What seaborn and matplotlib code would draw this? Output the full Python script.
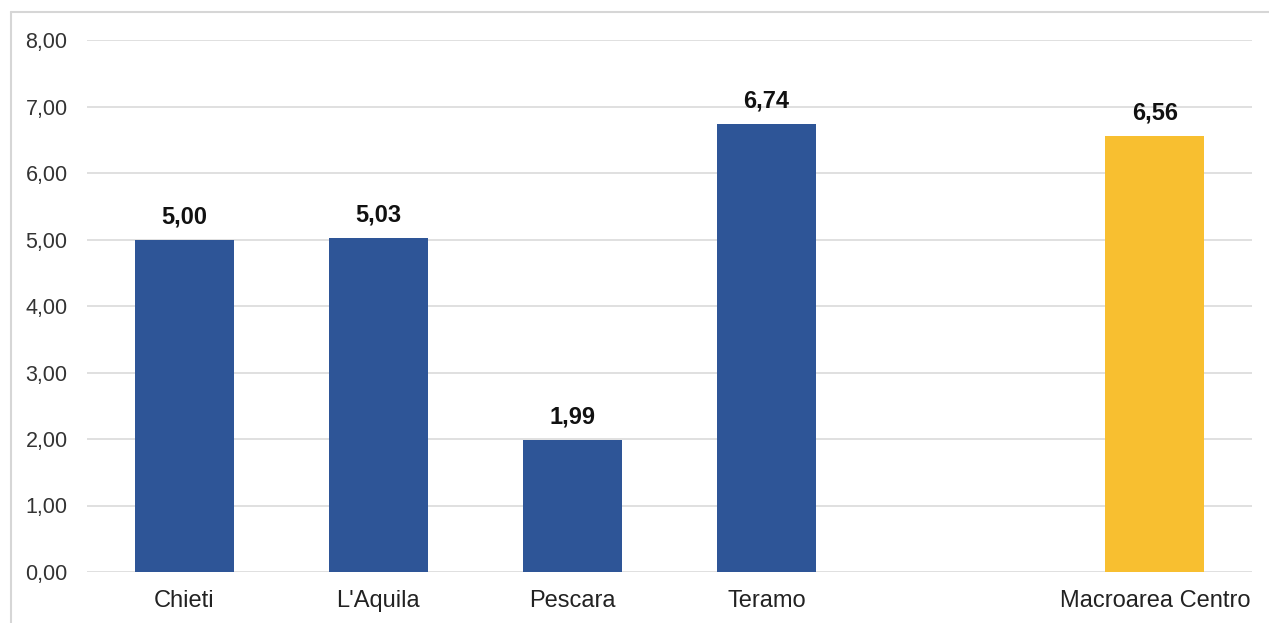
import matplotlib
matplotlib.use("Agg")
import matplotlib.pyplot as plt
from matplotlib.lines import Line2D
import seaborn as sns
import pandas as pd

categories = ["Chieti", "L'Aquila", "Pescara", "Teramo", "Macroarea Centro"]
values = [5.00, 5.03, 1.99, 6.74, 6.56]
order = ["Chieti", "L'Aquila", "Pescara", "Teramo", " ", "Macroarea Centro"]
colors = {"Chieti": "#2E5597", "L'Aquila": "#2E5597", "Pescara": "#2E5597",
          "Teramo": "#2E5597", " ": "#2E5597", "Macroarea Centro": "#F8BF30"}
yticks = [0, 1, 2, 3, 4, 5, 6, 7, 8]

sns.set_theme(style="white")
plt.rcParams['font.family'] = ['Liberation Sans', 'DejaVu Sans']

df = pd.DataFrame({"cat": categories, "val": values})

fig = plt.figure(figsize=(12.69, 6.23), dpi=100)
ax = fig.add_axes([87/1269, 1-572/623, (1252-87)/1269, (572-40)/623])

sns.barplot(data=df, x="cat", y="val", hue="cat", order=order, palette=colors,
            width=0.51, legend=False, ax=ax, saturation=1, linewidth=0)

ax.set_ylim(0, 8)
ax.set_yticks(yticks)
ax.set_yticklabels([f"{t:.2f}".replace('.', ',') for t in yticks],
                   fontsize=15.5, color="#333333")
ax.tick_params(axis='y', length=0, pad=14)
ax.tick_params(axis='x', length=0, pad=13, labelsize=17, labelcolor="#222222")
ax.set_xlabel("")
ax.set_ylabel("")
ax.yaxis.grid(True, color="#e0e0e0", linewidth=1.4)
ax.set_axisbelow(True)
for s in ax.spines.values():
    s.set_visible(False)

for cont in ax.containers:
    ax.bar_label(cont, fmt=lambda v: f"{v:.2f}".replace('.', ','), padding=8,
                 fontsize=17, fontweight='bold', color="#111111")

# spreadsheet cell frame
fig.add_artist(Line2D([11/1269, 1], [1-12/623, 1-12/623], color="#d6d6d6", lw=1.5,
                      transform=fig.transFigure))
fig.add_artist(Line2D([11/1269, 11/1269], [0, 1-12/623], color="#d6d6d6", lw=1.5,
                      transform=fig.transFigure))

fig.savefig("out.png", dpi=100)
